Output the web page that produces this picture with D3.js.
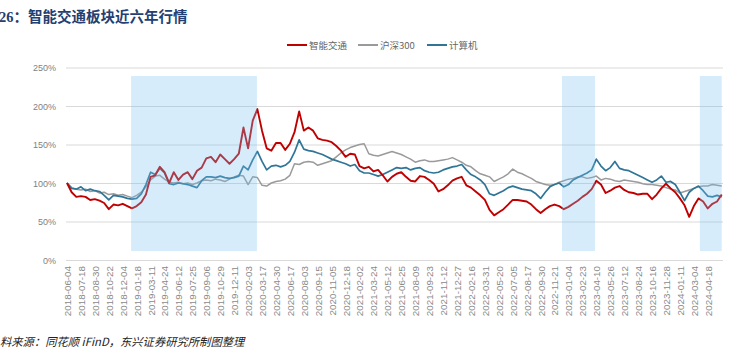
<!DOCTYPE html>
<html><head><meta charset="utf-8">
<script src="https://cdn.jsdelivr.net/npm/d3@7"></script>
<style>
html,body{margin:0;padding:0;background:#fff;overflow:hidden;}
svg{display:block;}
</style></head>
<body>
<svg id="chart" width="746" height="357"></svg>
<script>
// x-axis category labels (one every 3 samples)
const dateLabels = ["2018-06-04","2018-07-18","2018-08-30","2018-10-22","2018-12-04","2019-01-18","2019-03-11","2019-04-24","2019-06-12","2019-07-25","2019-09-06","2019-10-29","2019-12-11","2020-02-03","2020-03-17","2020-04-30","2020-06-17","2020-08-03","2020-09-15","2020-11-05","2020-12-18","2021-02-02","2021-03-24","2021-05-12","2021-06-25","2021-08-09","2021-09-23","2021-11-12","2021-12-27","2022-02-16","2022-03-31","2022-05-20","2022-07-05","2022-08-17","2022-09-30","2022-11-21","2023-01-04","2023-02-23","2023-04-10","2023-05-26","2023-07-12","2023-08-24","2023-10-16","2023-11-28","2024-01-11","2024-03-04","2024-04-18"];
const yTicks = [0,50,100,150,200,250];
const seriesNames = ["智能交通","沪深300","计算机"];
// values in %, sampled 3 per label interval
const smartTraffic = [100,88,82,83,82,78,79,77,74,66,72,71,73,70,67,70,75,85,108,110,121,114,100,114,104,111,114,105,116,120,132,134,127,137,131,125,131,138,172,145,181,196,168,145,142,152,152,143,151,166,193,168,172,168,158,156,155,153,148,142,134,138,137,122,119,121,115,117,110,102,108,112,114,108,103,102,109,108,104,99,89,92,97,103,106,108,97,94,89,84,78,65,58,62,66,72,78,78,77,76,72,66,61,66,70,72,70,66,69,73,77,82,86,92,103,98,87,90,94,96,91,88,87,85,86,86,79,85,93,99,93,88,80,71,56,70,80,76,67,73,76,85];
const hs300 = [100,94,92,91,92,89,90,87,88,85,86,84,85,83,81,84,88,95,104,109,110,105,101,100,101,99,100,98,100,103,104,103,105,104,102,105,108,110,109,98,108,107,97,96,100,102,103,105,110,125,124,127,128,127,123,125,127,129,134,139,143,146,148,150,151,138,136,135,137,139,141,139,137,134,131,127,129,130,128,128,129,130,131,133,130,127,123,121,116,112,110,108,102,105,108,112,118,114,112,109,106,102,100,98,97,98,101,103,105,106,108,108,106,107,109,104,106,105,103,102,104,103,102,101,99,98,98,97,96,94,92,91,87,89,91,93,95,96,96,98,97,96];
const computer = [100,93,92,95,90,92,90,89,84,78,84,83,82,80,79,80,86,98,114,111,119,113,99,98,100,99,98,96,94,103,108,108,107,109,107,106,107,109,122,117,130,141,128,117,122,123,121,123,128,140,156,144,142,141,139,137,134,131,129,127,125,122,124,116,113,113,111,109,111,114,117,120,119,120,117,119,120,116,114,113,114,117,119,121,122,124,117,111,108,104,98,86,84,87,90,94,96,94,92,91,90,86,80,88,95,98,100,95,98,104,107,110,113,117,131,122,116,120,128,119,117,116,113,110,107,104,101,104,109,101,102,98,88,77,88,93,96,90,83,82,84,82];
// highlighted periods, in sample-index units
const shadeStart = [13.8, 106.6, 136.3];
const shadeEnd = [40.9, 113.7, 141];

const colors = ["#c00000","#9a9a9a","#2f7597"];
const svg = d3.select("#chart");
const plotLeft = 66, plotRight = 723, plotTop = 67.5, plotBottom = 260;
const n = smartTraffic.length;
const x = d3.scaleLinear().domain([0, n-1]).range([67, 721.7]);
const y = d3.scaleLinear().domain([0, 250]).range([plotBottom, plotTop]);

// title
const title = svg.append("text").attr("x", -1).attr("y", 22)
  .attr("fill", "#243f72").attr("font-weight", "bold").attr("font-size", 14.5);
title.append("tspan").attr("font-family", "'Liberation Serif', serif").text("26");
title.append("tspan").attr("font-family", "'Noto Sans CJK SC', sans-serif").text("：智能交通板块近六年行情");

// legend
const legX = [287, 358, 427];
seriesNames.forEach((name, i) => {
  svg.append("line").attr("x1", legX[i]).attr("x2", legX[i] + 20).attr("y1", 45).attr("y2", 45)
    .attr("stroke", colors[i]).attr("stroke-width", 2);
  svg.append("text").attr("x", legX[i] + 22).attr("y", 48.5)
    .attr("font-family", "'Noto Sans CJK SC', sans-serif").attr("font-size", 9.5)
    .attr("fill", "#666").text(name);
});

// gridlines
svg.append("g").selectAll("line").data(yTicks).join("line")
  .attr("x1", plotLeft).attr("x2", plotRight)
  .attr("y1", d => y(d) + 0.5).attr("y2", d => y(d) + 0.5)
  .attr("stroke", "#d9d9d9").attr("stroke-width", 1);

// y labels
svg.append("g").selectAll("text").data(yTicks).join("text")
  .attr("x", 56).attr("y", d => y(d) + 3.5)
  .attr("text-anchor", "end").attr("font-family", "'Liberation Sans', sans-serif")
  .attr("font-size", 9).attr("fill", "#7f7f7f").text(d => d + "%");

// x axis
const xAxis = d3.axisBottom(x)
  .tickValues(dateLabels.map((d, i) => i * 3))
  .tickFormat((d, i) => dateLabels[i]).tickSize(0);
const gx = svg.append("g").attr("transform", `translate(0,${plotBottom})`).call(xAxis);
gx.select(".domain").remove();
gx.selectAll("text")
  .attr("font-family", "'Liberation Sans', sans-serif").attr("font-size", 9.8)
  .attr("fill", "#8a8a8a")
  .attr("text-anchor", "end")
  .attr("transform", "rotate(-90)")
  .attr("x", -6).attr("y", 0).attr("dy", "0.35em");

// lines
const line = d3.line().x((d, i) => x(i)).y(d => y(d));
const series = [hs300, computer, smartTraffic];
const serColors = [colors[1], colors[2], colors[0]];
const serWidths = [1.5, 1.7, 1.9];
series.forEach((s, k) => {
  svg.append("path").datum(s).attr("d", line).attr("fill", "none")
    .attr("stroke", serColors[k]).attr("stroke-width", serWidths[k]).attr("stroke-linejoin", "round");
});

// highlighted periods (drawn over lines, semi-transparent)
svg.append("g").selectAll("rect").data(shadeStart).join("rect")
  .attr("x", (d) => x(d))
  .attr("width", (d, i) => x(shadeEnd[i]) - x(d))
  .attr("y", 76).attr("height", 175)
  .attr("fill", "rgb(118,192,240)").attr("opacity", 0.3);

// footer
svg.append("text").attr("x", 0).attr("y", 346)
  .attr("font-family", "'Noto Sans CJK SC', serif").attr("font-style", "italic")
  .attr("font-size", 11.3).attr("fill", "#222")
  .text("料来源：同花顺 iFinD，东兴证券研究所制图整理");
</script>
</body></html>
